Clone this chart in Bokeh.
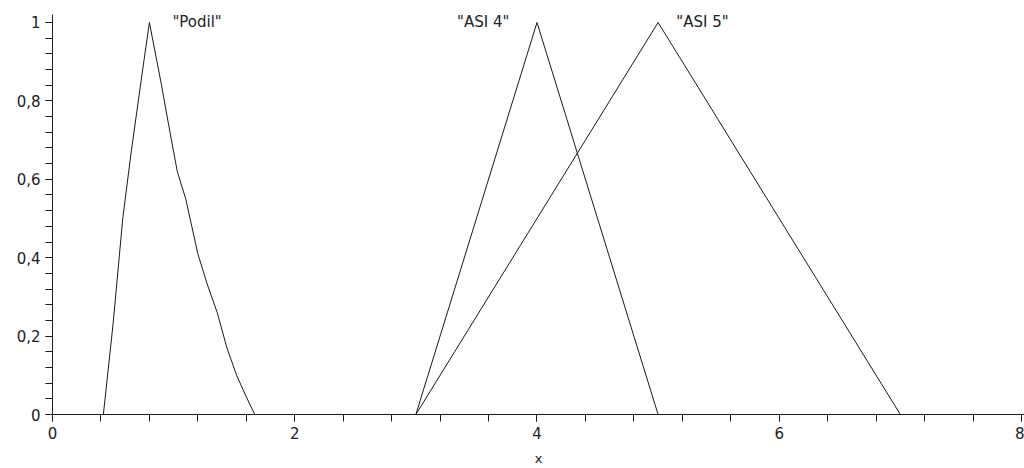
from bokeh.plotting import figure
from bokeh.models import Range1d, FixedTicker, CustomJSTickFormatter, ColumnDataSource
from bokeh.core.properties import value
from bokeh.embed import file_html
from bokeh.resources import INLINE

# Membership functions
podil_x = [0.42, 0.50, 0.58, 0.65, 0.74, 0.80, 0.90, 0.97, 1.03, 1.10, 1.20, 1.28, 1.36, 1.44, 1.52, 1.60, 1.67]
podil_y = [0.0, 0.23, 0.50, 0.67, 0.87, 1.0, 0.84, 0.72, 0.62, 0.55, 0.41, 0.33, 0.26, 0.17, 0.10, 0.045, 0.0]

asi4_x = [3, 4, 5]
asi4_y = [0, 1, 0]

asi5_x = [3, 5, 7]
asi5_y = [0, 1, 0]

# Curve names placed beside the peaks
label_x = [0.99, 3.34, 5.15]
label_y = [1.0, 1.0, 1.0]
label_text = ['"Podil"', '"ASI 4"', '"ASI 5"']

x_major = [0, 2, 4, 6, 8]
x_minor = [i * 0.4 for i in range(21)]
y_major = [0, 0.2, 0.4, 0.6, 0.8, 1.0]
y_minor = [i * 0.04 for i in range(26)]

FONT = "DejaVu Sans"
INK = "#222222"

p = figure(width=1024, height=468,
           x_range=Range1d(0, 8.025), y_range=Range1d(0, 1.0204),
           output_backend="svg", toolbar_location=None,
           min_border_left=52, min_border_right=0,
           min_border_top=14, min_border_bottom=54)
p.outline_line_color = None
p.grid.visible = False
p.background_fill_color = "white"
p.border_fill_color = "white"

for xs, ys in ((podil_x, podil_y), (asi4_x, asi4_y), (asi5_x, asi5_y)):
    p.line(xs, ys, line_color="#1a1a1a", line_width=1)

src = ColumnDataSource(dict(x=label_x, y=label_y, t=label_text))
p.text(x="x", y="y", text="t", source=src, text_font=value(FONT),
       text_font_size="15px", text_color=INK,
       text_align="left", text_baseline="middle")

fmt = CustomJSTickFormatter(code="return String(Math.round(tick*10)/10).replace('.', ',');")

p.xaxis.ticker = FixedTicker(ticks=x_major, minor_ticks=x_minor)
p.yaxis.ticker = FixedTicker(ticks=y_major, minor_ticks=y_minor)
p.xaxis.formatter = fmt
p.yaxis.formatter = fmt
p.xaxis.axis_label = "x"

for ax in (p.xaxis, p.yaxis):
    ax.axis_line_color = "#1a1a1a"
    ax.major_tick_line_color = "#1a1a1a"
    ax.minor_tick_line_color = "#1a1a1a"
    ax.major_tick_out = 7
    ax.major_tick_in = 0
    ax.minor_tick_out = 7
    ax.minor_tick_in = 0
    ax.major_label_text_font = FONT
    ax.major_label_text_font_size = "15px"
    ax.major_label_text_color = INK
    ax.major_label_standoff = 5
    ax.axis_label_text_font = FONT
    ax.axis_label_text_font_size = "13px"
    ax.axis_label_text_font_style = "normal"
    ax.axis_label_text_color = INK

p.xaxis.axis_label_standoff = 9

open("out.html", "w").write(file_html(p, INLINE))
